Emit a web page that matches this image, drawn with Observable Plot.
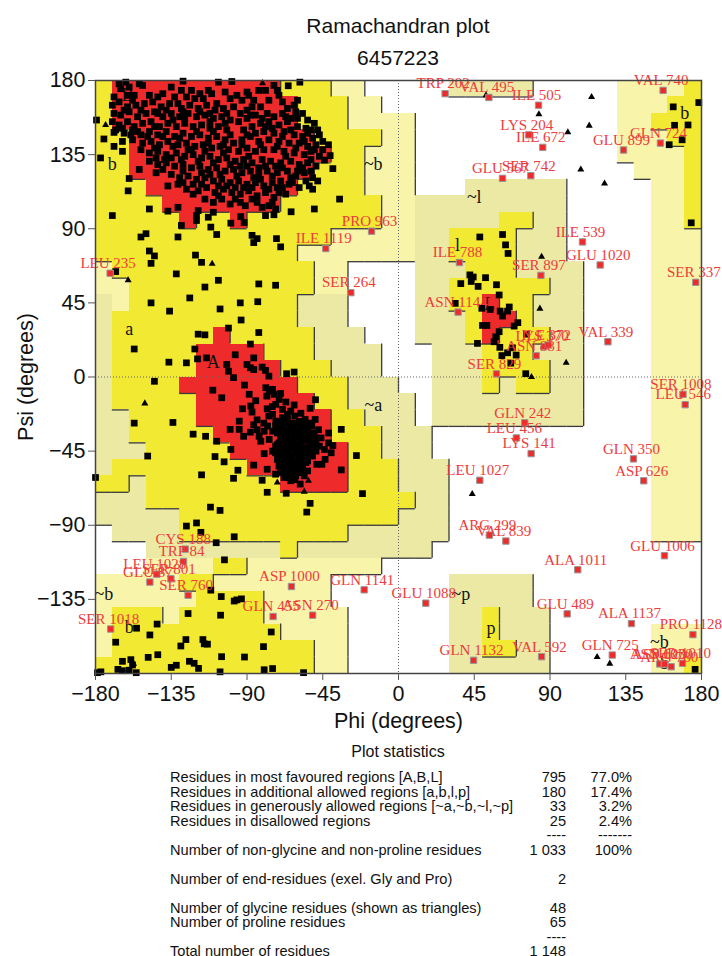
<!DOCTYPE html>
<html><head><meta charset="utf-8">
<script src="https://cdn.jsdelivr.net/npm/d3@7"></script>
<script src="https://cdn.jsdelivr.net/npm/@observablehq/plot@0.6"></script>
<style>
html,body{margin:0;padding:0;background:#fff;width:722px;height:956px;overflow:hidden;font-family:"Liberation Sans",Arial,sans-serif;color:#111}
#head{height:56px;padding:10px 0 0 74px;width:648px;text-align:center;font-size:21px;line-height:32px}
#chart svg{display:block}
#stats{position:relative;font-size:14.6px}
#stats .t{height:24px;line-height:24px;padding-left:74px;text-align:center;margin-bottom:6px;font-size:16px}
#stats .r{position:relative;height:14.5px;line-height:14.5px;white-space:nowrap}
#stats .r span{position:absolute;top:0}
</style></head><body>
<div id="head"><div>Ramachandran plot</div><div>6457223</div></div>
<div id="chart"></div>
<div id="stats"></div>
<script>
const ticks=[-180,-135,-90,-45,0,45,90,135,180];
const yTicks=[-135,-90,-45,0,45,90,135,180];
// region map: rows from psi 180 downwards in 10 degree steps, run-length coded by phi from -180
const regionRows=[
"Y1 R10 Y3 P2 W5 L5 W5 P4 Y1",
"Y1 R11 Y3 P2 W14 P3 Y2",
"Y1 R11 Y3 P4 W12 P2 Y3",
"Y2 R11 Y4 P2 W12 P3 Y2",
"Y2 R12 Y2 P3 W12 P4 Y1",
"Y2 R11 Y3 P3 W13 P3 Y1",
"Y3 R9 Y4 P3 W3 L6 W5 P2 Y1",
"Y4 R7 Y6 P2 L9 W5 P2 Y1",
"Y5 R1 Y2 R1 Y8 P2 L5 Y2 L2 W5 P2 Y1",
"Y14 P5 L2 Y4 L3 W5 P3",
"Y12 P7 L2 Y4 L3 W5 P3",
"P1 Y12 P2 W4 L3 Y3 L4 W4 P3",
"P2 Y11 P2 W4 L2 Y6 L2 W4 P3",
"L1 P1 Y10 L3 W4 L2 Y2 R1 Y2 L3 W4 P3",
"L1 Y11 L3 W4 L3 Y1 R2 Y1 L3 W4 P3",
"L1 Y6 R1 Y5 L3 W3 L3 Y1 R1 Y3 L2 W4 P3",
"L1 Y5 R4 Y3 L4 W3 L3 Y3 L3 W4 P3",
"L1 Y5 R5 Y3 L3 W3 L3 Y4 L2 W4 P3",
"L1 Y4 R7 Y3 L3 W2 L3 Y1 L1 Y2 L2 W4 P3",
"L1 Y5 R7 Y2 L4 W1 L9 W4 P3",
"L2 Y4 R8 Y2 L3 W1 L9 W4 P3",
"L2 Y5 R7 Y3 L3 W13 P3",
"L3 Y5 R7 Y2 L3 W13 P3",
"L1 Y8 R6 Y3 L3 W12 P3",
"Y2 L1 Y8 R4 Y3 L3 W12 P3",
"L3 Y16 L2 W12 P3",
"L5 Y13 L3 W12 P3",
"W1 L4 Y10 L6 W12 P3",
"W3 L8 Y1 L8 W16",
"W3 P4 Y2 P8 W19",
"P5 Y2 P7 W7 L5 W10",
"P6 Y4 P4 W7 L5 W10",
"P1 Y3 P1 Y5 P5 W6 L2 Y1 L3 W9",
"P1 Y10 P4 W6 L2 Y1 L3 W6 P3",
"P1 Y12 P2 W6 L2 Y2 L2 W6 P3",
"Y13 P2 W6 L6 W6 P2 Y1"
];
const regionColor={R:"#EE2A2B",Y:"#F2E932",L:"#EBE9A4",P:"#F8F5AA"};
const regionRank={W:0,L:1,P:1,Y:2,R:3};
const regionText=["A","B","a","b","~a","~b","~b","~l","l","L","b","~p","p","~b","b","b"];
const regionTextPhi=[-110,-161,-160,-170,-15,-15,-175,45,35,54,170,37,55,155,158,-160];
const regionTextPsi=[9,171,29,129,-17,129,-132,109,80,44,160,-132,-152.5,-161,-174,-152];
const sheetPoints=[[-166,178],[-162,179],[-160,176],[-154,178],[-152,177],[-165,175],[-169,170],[-161,171],[-157,171],[-135,176],[-140,172],[-143,170],[-133,170],[-126,170],[-123,174],[-113,174],[-111,172],[-121,169],[-116,169],[-100,169],[-108,166],[-93,168],[-90,173],[-89,171],[-83,174],[-79,174],[-74,177],[-72,174],[-71,171],[-77,168],[-87,164],[-82,164],[-60,168],[-62,165],[-66,163],[-61,161],
[-170,165],[-166,167],[-161,164],[-156,165],[-151,166],[-146,167],[-141,164],[-136,166],[-131,166],[-129,163],[-124,165],[-119,163],[-114,165],[-109,162],[-104,163],[-98,164],[-94,160],[-90,162],[-85,159],[-78,160],[-74,158],[-69,160],[-64,157],[-57,160],[-54,156],
[-169,160],[-165,159],[-160,161],[-155,158],[-150,160],[-145,161],[-140,158],[-135,160],[-130,158],[-125,160],[-120,158],[-115,159],[-110,157],[-105,158],[-100,156],[-95,155],[-90,157],[-82,154],[-77,155],[-71,153],[-66,155],[-60,152],[-55,151],[-50,154],[-48,150],
[-170,155],[-166,153],[-161,155],[-157,152],[-152,154],[-147,155],[-142,152],[-137,154],[-132,152],[-127,154],[-122,152],[-117,153],[-112,151],[-107,152],[-102,150],[-92,150],[-87,152],[-80,149],[-74,148],[-68,149],[-62,147],[-57,146],[-51,145],[-47,147],
[-168,150],[-163,148],[-158,150],[-153,147],[-148,149],[-143,147],[-138,149],[-133,146],[-128,148],[-123,146],[-118,147],[-113,145],[-108,146],[-103,144],[-98,142],[-93,144],[-88,146],[-83,143],[-77,144],[-71,143],[-65,142],[-59,142],[-54,140],[-49,141],[-45,143],
[-158,144],[-152,142],[-147,143],[-142,141],[-137,143],[-131,141],[-126,142],[-121,140],[-116,141],[-111,139],[-106,140],[-101,138],[-95,137],[-90,139],[-85,137],[-80,138],[-74,138],[-68,137],[-62,136],[-56,135],[-52,137],[-47,134],
[-153,138],[-148,136],[-143,137],[-138,135],[-132,136],[-127,134],[-122,135],[-117,133],[-112,134],[-107,132],[-102,133],[-97,131],[-92,132],[-87,130],[-81,132],[-76,131],[-70,130],[-64,131],[-59,129],[-54,130],[-49,128],
[-148,131],[-143,129],[-138,130],[-133,128],[-128,129],[-123,127],[-118,128],[-113,126],[-108,127],[-103,125],[-98,126],[-93,124],[-88,125],[-83,123],[-78,125],[-72,124],[-66,125],[-61,122],[-56,124],[-51,121],[-48,119],
[-144,124],[-135,123],[-130,121],[-125,122],[-120,120],[-115,121],[-110,119],[-105,120],[-100,118],[-95,119],[-90,117],[-85,118],[-80,116],[-75,118],[-70,119],[-65,117],[-59,115],[-53,116],[-51,114],
[-137,116],[-126,114],[-119,113],[-114,115],[-109,112],[-104,114],[-99,112],[-94,111],[-89,113],[-84,110],[-79,112],[-74,109],[-71,112],[-67,111],
[-115,108],[-110,106],[-105,108],[-100,105],[-94,106],[-91,104],[-84,106],[-81,103],[-77,104],[-75,106],[-73,102],
[-158,168],[-148,171],[-129,174],[-118,172],[-103,173],[-96,171],[-86,168],[-69,167],[-164,151],[-155,149],[-145,152],[-134,156],[-127,157],[-112,155],[-103,154],[-85,148],[-79,152],[-69,146],[-60,157],[-56,143],[-144,133],[-135,133],[-125,138],[-115,137],[-104,136],[-94,128],[-89,134],[-83,127],[-73,128],[-67,134],[-60,125],[-52,125],[-131,117],[-122,117],[-112,123],[-102,116],[-92,115],[-82,120],[-72,115],[-64,121],
[-163,162],[-153,162],[-143,160],[-138,162],[-128,161],[-118,161],[-112,160],[-102,160],[-88,159],[-81,157],[-67,158],[-52,150],[-159,147],[-149,146],[-140,146],[-130,145],[-120,149],[-110,149],[-100,147],[-90,147],[-75,151],[-64,150],[-54,148],[-145,139],[-134,140],[-123,138],[-113,142],[-104,141],[-93,141],[-82,141],[-72,140],[-61,139],[-50,138],[-139,132],[-129,132],[-119,131],[-110,130],[-100,129],[-90,128],[-79,128],[-69,127],[-57,127],[-45,138],[-140,126],[-128,125],[-117,124],[-106,123],[-96,122],[-86,121],[-75,122],[-63,118],[-55,119],[-128,118],[-117,117],[-107,116],[-97,115],[-87,115],[-77,114],[-69,115],[-122,111],[-107,110],[-97,108],[-87,108]];
const sparseUpper=[[-179.4,156],[-175,144.5],[-169,148.5],[-169,140],[-164,143],[-164,137],[-177,133],[-154,126],[-160,120.5],[-160.6,113],[-148,102],[-170,98],[-131,103],[-137,100.7],[-129,92],[-120,95],[-120,98],[-119,101],[-113,97],[-110,100],[-111.5,91],[-108,86.5],[-131,85],[-150,87],[-153,85],[-148,76.5],[-145,73.5],[-147,69],[-120.6,74],[-117,69.6],[-132,62.6],[-107,58.7],[-115,54.6],[-168,64],[-83,56.5],[-73,55.7],[-147,45],[-124,48],[-136,40],[-106,41.3],[-94,45],[-83.6,45.7],[-93.5,34.6],[-83,27],[-101,29.7],[-119,26],[-115,25.6],[-157,17],[-121,17],[-88,20],[-136.4,9],[-126,8.6],[-119.4,11],[-114,11.6],[-97,13.5],[-102,7.6],[-101,3.5],[-86,11.6],[-90,7.6],[-88,5.6],[-86,4.5],[-81,6],[-79,4],[-77,0.5],[-66.5,2],[-62,3],[-87,86],[-84,84],[-86,81.6],[-72.5,84],[-70,79],[-79,98],[-74,98.5],[-63.8,100.3],[-50,102],[-35,108],[-39,126.5],[-41.6,141],[-40.6,134.4],[-44,131.7],[-52,132],[-58.6,179],[-65.5,176.8],[-99.6,93.4],[-93.7,97.4],[-91.7,93.8],[-128,179.6],[-107,179],[-99,179.4]];
const sparseLower=[[-145,-2.6],[-157,-28],[-134,-27.6],[-122,-34.7],[-114.6,-36],[-108,-39],[-180,-61],[-149,-48],[-109,-48.3],[-103.6,-51.5],[-99.6,-44],[-117,-59.4],[-95.4,-56.6],[-98,-61.5],[-86,-53.5],[-81,-62.7],[-78,-70],[-66.7,-70.6],[-73,-59],[-78,-56],[-21.4,-70.8],[-34,-56.4],[-25,-47.7],[-34,-31.8],[-49.3,-13.8],[-110.3,-8],[-105,-12.6],[-88.7,-10.5],[-84.8,-14.4],[-91.5,-4.9],[-98,-0.4],[-100,-31.8],[-94.6,-31.8],[-94.6,-26.8],[-92,-36],[-88,-33.5],[-92.7,-19.3],[-87.7,-17.6],[-87,-21.3],[-84,-26],[-78,-19.3],[-77,-23.7],
[-111.7,-79],[-106,-81],[-52.5,-76.7],[-54.5,-82],[-126,-90.5],[-120,-88.6],[-117.4,-94.3],[-108.3,-100.6],[-97.6,-97],[-103.4,-111],[-111.5,-129.4],[-105.3,-133.3],[-97.6,-136],[-96,-135.3],[-93.3,-134.7],[-125,-143.6],[-105.7,-144.6],[-143.4,-150],[-155.6,-152.5],[-147.7,-156.6],[-75.6,-154.8],[-168,-161],[-126.3,-159.4],[-129.3,-163.3],[-116.2,-159.4],[-115.4,-162],[-113.5,-162.2],[-80.2,-163.7],[-105.1,-169.8],[-91.5,-170],[-143,-168.6],[-148.7,-170.2],[-164,-172.6],[-159,-171.6],[-158,-174.8],[-166.7,-177.5],[-164,-178.3],[-160,-178],[-155.8,-179.5],[-135,-176.3],[-132,-175],[-124.2,-172.6],[-121.4,-173.8],[-118.8,-176.9],[-106,-179],[-79.8,-177.7],[-74.8,-177],[-56.4,-179.5],[-178.8,-179.5],[-176.8,-179]];
const helixPoints=[[-78.8,-6.5],[-76.8,-8.5],[-74.8,-7.5],[-73.9,-10.5],[-78.2,-11.6],[-70.9,-13.6],[-72.9,-16.6],[-66.9,-15.2],[-68.9,-19.7],[-64,-20.7],[-61.6,-23.7],[-66,-22.7],[-74.8,-22.7],[-72.9,-26.8],[-68.9,-24.7],[-77.8,-29.8],[-79.8,-32.9],[-82.8,-36],[-74.8,-32.9],[-76.8,-37.9],[-79.8,-46.5],[-74.8,-45],[-81.8,-39],[-71.9,-41],[-52.5,-19],[-55.5,-25.8],[-49.5,-25.8],[-51.5,-29.8],[-47.5,-32],[-41.5,-34],[-41.5,-40],[-39,-41.6],[-40,-46],[-43.6,-50],[-45.5,-53],[-48.5,-53],[-54,-51],[-57,-53],[-54,-57],[-61.6,-62.3],[-58.4,-65],[-68,-61],[-70,-57],[-66,-53],
[-70,-27],[-66,-26],[-63,-28],[-59,-27],[-56,-29],[-53,-28],[-73,-30],[-69,-31],[-65,-30],[-61,-32],[-57,-31],[-54,-33],[-50,-34],
[-72,-34],[-68,-35],[-64,-34],[-60,-36],[-56,-35],[-52,-37],[-49,-38],[-70,-38],[-66,-39],[-62,-38],[-58,-40],[-54,-39],[-51,-41],[-47,-42],
[-73,-42],[-69,-43],[-65,-42],[-61,-44],[-57,-43],[-53,-45],[-49,-45],[-71,-47],[-67,-46],[-63,-48],[-59,-47],[-55,-49],[-51,-48],
[-72,-50],[-69,-51],[-65,-50],[-61,-52],[-58,-50],[-71,-54],[-67,-55],[-63,-54],[-60,-56],[-57,-55],[-69,-58],[-65,-58],[-62,-59],[-58,-58],
[-80,-28],[-84,-32],[-86,-29],[-75,-18],[-70,-10],[-62,-17],[-58,-22],[-46,-37],[-44,-44],[-56,-60],[-64,-63],
[-68,-28],[-64,-28.5],[-61,-29],[-58,-29],[-71,-32],[-67,-33],[-63,-32],[-59,-33],[-55,-31],[-70,-36],[-66,-37],[-62,-36],[-58,-37],[-54,-36],[-50,-37],[-71,-40],[-67,-41],[-63,-40],[-60,-41],[-56,-38],[-52,-40],[-49,-42],[-70,-44],[-67,-44],[-63,-43],[-59,-45],[-55,-43],[-51,-44],[-73,-46],[-69,-47],[-65,-46],[-61,-46],[-57,-46],[-53,-47],[-71,-50],[-67,-49],[-63,-51],[-59,-49],[-55,-52],[-69,-53],[-65,-53],[-61,-54],[-58,-54],[-67,-57],[-63,-57],[-60,-58],[-65,-61],[-61,-60]];
const turnPoints=[[178.4,166.6],[163.2,164],[164,152.8],[172,153],[168.5,144],[160.8,141],[173.9,93.6],[48.3,85],[61.8,86.5],[63.6,80.2],[65.1,75],[42.4,62],[44.4,60.7],[43.2,58],[47.3,55],[51.7,60.3],[37,56.7],[58.2,56],[59.8,49.8],[33.7,44.7],[49.5,41.7],[54.5,41],[60.4,40],[65.8,42.5],[64.8,40],[61.8,37],[70.9,33],[68.7,30.9],[49.9,31.3],[52.5,31.3],[59.8,27.5],[57.8,24.4],[56.8,21.4],[60.2,18],[46.9,20.4],[64.8,14.7],[61.4,13],[69.9,13.3],[66.7,8.4],[75.6,2],[76,26],[67.7,17.7],[176.2,-177.5]];
const glycinePoints=[[-80.8,178.4],[-174,153],[-110.7,68.8],[-160.6,58.7],[52,171],[83.4,159.5],[114.7,170],[113.3,152.6],[100.6,148.6],[108.3,126],[122.4,117.5],[85,73],[84,41.5],[99.6,8.6],[79,0],[43.8,-71],[118,-170],[125.5,-174],[-150.7,-16],[-72,-64],[-53.5,-63],[-56,-69.6],[-157.4,-174]];
const outlierNames=["PRO 963","ILE 1119","SER 264","LEU 235","TRP 202","VAL 495","ILE 505","LYS 204","ILE 672","GLU 567","SER 742","GLU 899","GLN 724","VAL 740","ILE 539","GLU 1020","SER 897","ILE 788","SER 337","ASN 1144","VAL 339","LYS 370","ILE 372","ASN 881","SER 829","SER 1008","LEU 546","GLN 242","LEU 456","LYS 141","GLN 350","ASP 626","LEU 1027","ARG 299","VAL 839","GLU 1006","ALA 1011","GLU 1088","GLU 489","ALA 1137","PRO 1128","GLN 1132","VAL 592","GLN 725","ASN 620","ASP 1030","ARG 780","SER 1010","CYS 188","TRP 84","LEU 1028","SER 801","GLU 87","SER 760","ASP 1000","GLN 1141","GLN 455","ASN 270","SER 1018"];
const outlierPhi=[-16,-43.2,-28.3,-171.3,27.7,53.7,83.2,77.4,85.7,61.8,78.6,133.7,155.6,157.2,109.3,119.8,84.6,36.2,176.6,35.4,124.4,86.5,89,81.8,58.2,169,170.3,75,70,78.8,139.6,145.7,48.3,54,63.8,158,106.5,16.2,100.2,138.4,174.9,44.6,85,127,155.2,158,162,168.7,-126.7,-127.7,-143.6,-135.2,-147.7,-125,-63.6,-20.4,-74.5,-51,-171];
const outlierPsi=[88.5,78,51.2,63,172,169.7,165,147,139.4,120.6,122.2,137.8,142,174,82,68,61.7,69.5,57.5,39.4,21.4,18.5,19.4,12.9,1.9,-10.5,-16.8,-27.8,-37,-46.5,-49.7,-63,-62.7,-96,-99.6,-108.5,-117,-137.3,-143.8,-149.7,-156.4,-172,-169.8,-168.8,-174.2,-174.3,-175.9,-173.8,-104.5,-112,-119.7,-122.5,-124.5,-132.5,-127.2,-129.2,-145.4,-144.6,-153];
const statRows=[
["Residues in most favoured regions [A,B,L]","795","77.0%"],
["Residues in additional allowed regions [a,b,l,p]","180","17.4%"],
["Residues in generously allowed regions [~a,~b,~l,~p]","33","3.2%"],
["Residues in disallowed regions","25","2.4%"],
["","----","-------"],
["Number of non-glycine and non-proline residues","1 033","100%"],
["","",""],
["Number of end-residues (exel. Gly and Pro)","2",""],
["","",""],
["Number of glycine residues (shown as triangles)","48",""],
["Number of proline residues","65",""],
["","----",""],
["Total number of residues","1 148",""]
];

const grid=regionRows.map(r=>{const a=[];r.split(" ").forEach(t=>{for(let i=0;i<+t.slice(1);i++)a.push(t[0]);});while(a.length<36)a.push("W");return a;});
const cells=[],vEdges=[],hEdges=[];
grid.forEach((row,j)=>row.forEach((c,i)=>{
  const phi=-180+i*10,psi=180-j*10;
  if(c!=="W")cells.push({x1:phi,x2:phi+10,y1:psi-10,y2:psi,c});
  if(i<35&&regionRank[c]>regionRank[row[i+1]])vEdges.push({x:phi+10,y1:psi-10,y2:psi});
  if(j<35&&regionRank[c]>regionRank[grid[j+1][i]])hEdges.push({y:psi-10,x1:phi,x2:phi+10});
}));
const labels=regionText.map((t,i)=>({t,x:regionTextPhi[i],y:regionTextPsi[i]}));
const black=[...sheetPoints,...sparseUpper,...sparseLower,...helixPoints,...turnPoints];
const outliers=outlierNames.map((n,i)=>({n,x:outlierPhi[i],y:outlierPsi[i]}));

const plot=Plot.plot({
  width:722,height:674,marginLeft:95,marginRight:21,marginTop:14,marginBottom:67,
  style:{fontFamily:"'Liberation Sans',Arial,sans-serif",background:"#fff",color:"#111"},
  x:{domain:[-180,180]},y:{domain:[-180,180]},
  marks:[
    Plot.rect(cells,{x1:"x1",x2:"x2",y1:"y1",y2:"y2",fill:d=>regionColor[d.c],shapeRendering:"crispEdges"}),
    Plot.ruleX(vEdges,{x:"x",y1:"y1",y2:"y2",stroke:"#3a3a3a",strokeWidth:1.3}),
    Plot.ruleY(hEdges,{y:"y",x1:"x1",x2:"x2",stroke:"#3a3a3a",strokeWidth:1.3}),
    Plot.ruleX([0],{stroke:"#666",strokeDasharray:"1,2",strokeWidth:1}),
    Plot.ruleY([0],{stroke:"#666",strokeDasharray:"1,2",strokeWidth:1}),
    Plot.text(labels,{x:"x",y:"y",text:"t",fontFamily:"'Liberation Serif',serif",fontSize:18,fill:"#111"}),
    Plot.dot(black,{x:d=>d[0],y:d=>d[1],symbol:"square",r:3.8,fill:"#000",stroke:"none"}),
    Plot.dot(glycinePoints,{x:d=>d[0],y:d=>d[1],symbol:"triangle",r:2.6,fill:"#000",stroke:"none"}),
    Plot.dot(outliers,{x:"x",y:"y",symbol:"square",r:3.6,fill:"#EE2A2B",stroke:"#999",strokeWidth:1}),
    Plot.text(outliers,{x:"x",y:"y",text:"n",dx:-2,dy:-10,fontFamily:"'Liberation Serif',serif",fontSize:15,fill:"#EE3B3C"}),
    Plot.frame({stroke:"#444",strokeWidth:1.5}),
    Plot.axisX({ticks,tickSize:7,tickPadding:5,stroke:"#555",fontSize:21.5,label:"Phi (degrees)",labelAnchor:"center",labelArrow:"none",labelOffset:54}),
    Plot.axisY({ticks:yTicks,tickSize:7,tickPadding:3,stroke:"#555",fontSize:21.5,label:"Psi (degrees)",labelAnchor:"center",labelArrow:"none",labelOffset:78})
  ]
});
document.getElementById("chart").append(plot);
const st=document.getElementById("stats");
const t=document.createElement("div");t.className="t";t.textContent="Plot statistics";st.append(t);
statRows.forEach(r=>{
  const d=document.createElement("div");d.className="r";
  [["left:170px",r[0]],["right:156px",r[1]],["right:90px",r[2]]].forEach(([s,v])=>{
    const e=document.createElement("span");e.style.cssText=s;e.textContent=v;d.append(e);});
  st.append(d);
});
</script></body></html>
